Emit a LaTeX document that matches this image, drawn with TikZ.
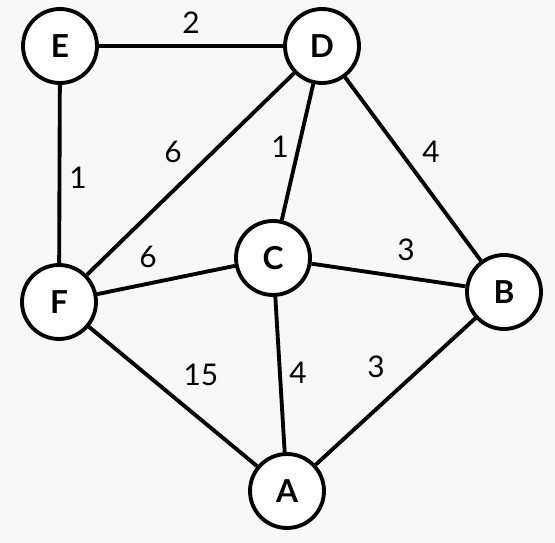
\documentclass[tikz,border=0pt]{standalone}
\usepackage{fontspec}
\setmainfont{Lato}
\definecolor{canvas}{RGB}{248,248,248}
\tikzset{
	vertex/.style={circle, draw=black, fill=white, line width=2.2pt, minimum size=1.48cm, inner sep=0pt, font=\fontsize{18}{20}\selectfont\bfseries},
	link/.style={line width=2.2pt},
	weight/.style={font=\fontsize{17}{20}\selectfont, inner sep=0pt, midway}
}
\begin{document}
\begin{tikzpicture}[x=0.02cm, y=-0.02cm]
		\fill[canvas] (0,0) rectangle (555,543);
		\useasboundingbox (0,0) rectangle (555,543);
		
		\node[vertex] (E) at (60,46) {E};
		\node[vertex] (D) at (322,46) {D};
		\node[vertex] (C) at (273,258) {C};
		\node[vertex] (F) at (59,302) {F};
		\node[vertex] (B) at (504,292) {B};
		\node[vertex] (A) at (287,491) {A};
		
		\draw[link] (E) -- (D) node[weight, yshift=0.46cm] {2};
		\draw[link] (D) -- (F) node[weight, xshift=-0.35cm, yshift=0.44cm] {6};
		\draw[link] (D) -- (C) node[weight, xshift=-0.35cm, yshift=0.1cm] {1};
		\draw[link] (D) -- (B) node[weight, xshift=0.36cm, yshift=0.34cm] {4};
		\draw[link] (E) -- (F) node[weight, xshift=0.37cm, yshift=-0.08cm] {1};
		\draw[link] (F) -- (C) node[weight, xshift=-0.36cm, yshift=0.46cm] {6};
		\draw[link] (C) -- (B) node[weight, xshift=0.35cm, yshift=0.5cm] {3};
		\draw[link] (F) -- (A) node[weight, xshift=0.56cm, yshift=0.43cm] {15};
		\draw[link] (C) -- (A) node[weight, xshift=0.36cm, yshift=0.03cm] {4};
		\draw[link] (A) -- (B) node[weight, xshift=-0.39cm, yshift=0.49cm] {3};
		
	\end{tikzpicture}
\end{document}
